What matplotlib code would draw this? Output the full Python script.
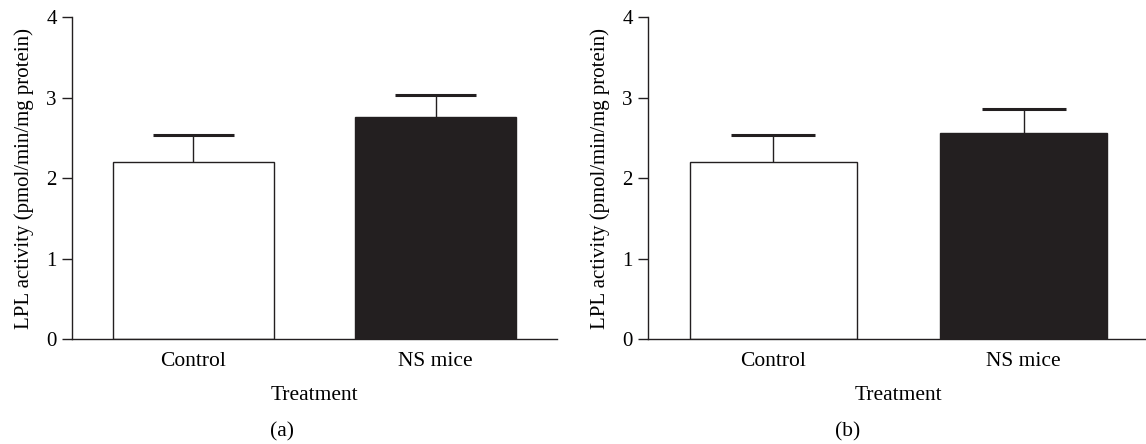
import numpy as np
import matplotlib.pyplot as plt

plt.rcParams['font.family'] = ['Liberation Serif', 'DejaVu Serif']

groups = ["Control", "NS mice"]
means_a = [2.20, 2.76]
sem_a = [0.33, 0.27]
means_b = [2.20, 2.555]
sem_b = [0.33, 0.30]
panel_tags = ["(a)", "(b)"]

ink = "#231f20"
fig = plt.figure(figsize=(11.46, 4.44), dpi=100)
W, H = 1146, 444
# axes boxes in pixels: left, right, bottom(y of 0), top(y of 4)
boxes = [(72, 557, 339, 17), (648, 1149, 339, 17)]
tag_x = [282, 848]
bar_w = 0.665
cap_half = 0.167

for (l, r, b, t), means, sem, tag, tx in zip(boxes, [means_a, means_b], [sem_a, sem_b], panel_tags, tag_x):
    ax = fig.add_axes([l / W, 1 - b / H, (r - l) / W, (b - t) / H])
    x = np.arange(len(groups))
    means = np.array(means)
    tops = means + np.array(sem)
    ax.bar(x, means, width=bar_w, color=["white", ink], edgecolor=ink, linewidth=1.0, zorder=2)
    ax.vlines(x, means, tops, color=ink, linewidth=1.0, zorder=1)
    ax.hlines(tops, x - cap_half, x + cap_half, color=ink, linewidth=2.2, zorder=1)
    ax.set_xlim(-0.5, 1.5)
    ax.set_ylim(0, 4)
    ax.set_yticks([0, 1, 2, 3, 4])
    ax.set_xticks(x)
    ax.set_xticklabels(groups, fontsize=15.5)
    ax.tick_params(axis="x", length=0, pad=9)
    ax.tick_params(axis="y", length=7, width=1, color=ink, labelsize=15, direction="out", pad=4)
    for s in ["top", "right"]:
        ax.spines[s].set_visible(False)
    for s in ["left", "bottom"]:
        ax.spines[s].set_color(ink)
        ax.spines[s].set_linewidth(1.0)
    ax.spines["bottom"].set_zorder(3)
    ax.set_ylabel("LPL activity (pmol/min/mg protein)", fontsize=15, labelpad=9)
    ax.set_xlabel("Treatment", fontsize=15.5, labelpad=11)
    fig.text(tx / W, 1 - 432 / H, tag, ha="center", va="center", fontsize=15.5)

fig.savefig("out.png", dpi=100, facecolor="white")
